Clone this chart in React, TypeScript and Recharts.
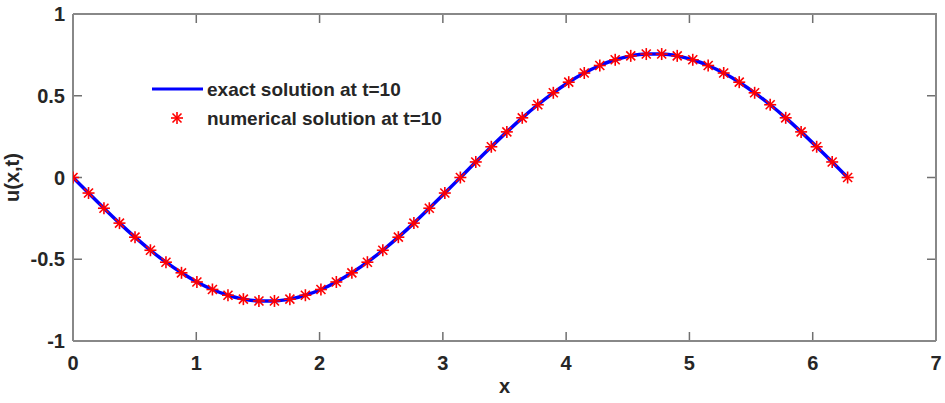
import React from 'react';
import { ComposedChart, Line, Scatter, XAxis, YAxis, CartesianGrid } from 'recharts';

// x positions of the computed nodes (0 .. 2π)
const xValues = [
  0, 0.126, 0.251, 0.377, 0.503, 0.628, 0.754, 0.88, 1.005, 1.131, 1.257, 1.382, 1.508,
  1.634, 1.759, 1.885, 2.011, 2.136, 2.262, 2.388, 2.513, 2.639, 2.765, 2.89, 3.016, 3.142,
  3.267, 3.393, 3.519, 3.644, 3.77, 3.896, 4.021, 4.147, 4.273, 4.398, 4.524, 4.65, 4.775,
  4.901, 5.027, 5.152, 5.278, 5.404, 5.529, 5.655, 5.781, 5.906, 6.032, 6.158, 6.283,
];

// exact solution u(x, t=10)
const exactValues = [
  0, -0.095, -0.188, -0.279, -0.365, -0.445, -0.518, -0.583, -0.639, -0.685, -0.72, -0.744, -0.755,
  -0.755, -0.744, -0.72, -0.685, -0.639, -0.583, -0.518, -0.445, -0.365, -0.279, -0.188, -0.095, 0,
  0.095, 0.188, 0.279, 0.365, 0.445, 0.518, 0.583, 0.639, 0.685, 0.72, 0.744, 0.755,
  0.755, 0.744, 0.72, 0.685, 0.639, 0.583, 0.518, 0.445, 0.365, 0.279, 0.188, 0.095, 0,
];

// numerical solution u(x, t=10)
const numericalValues = [
  0, -0.095, -0.188, -0.279, -0.365, -0.445, -0.518, -0.583, -0.639, -0.685, -0.72, -0.744, -0.755,
  -0.755, -0.744, -0.72, -0.685, -0.639, -0.583, -0.518, -0.445, -0.365, -0.279, -0.188, -0.095, 0,
  0.095, 0.188, 0.279, 0.365, 0.445, 0.518, 0.583, 0.639, 0.685, 0.72, 0.744, 0.755,
  0.755, 0.744, 0.72, 0.685, 0.639, 0.583, 0.518, 0.445, 0.365, 0.279, 0.188, 0.095, 0,
];

const xTicks = [0, 1, 2, 3, 4, 5, 6, 7];
const yTicks = [-1, -0.5, 0, 0.5, 1];

const exactData = xValues.map((x, i) => ({ x, u: exactValues[i] }));
const numericalData = xValues.map((x, i) => ({ x, u: numericalValues[i] }));

const CHART_W = 945;
const CHART_H = 403;
const MARGIN = { top: 14, right: 9, bottom: 0, left: 0 };
const Y_AXIS_W = 73;
const X_AXIS_H = 62;
const PLOT_W = CHART_W - MARGIN.left - MARGIN.right - Y_AXIS_W;
const PLOT_H = CHART_H - MARGIN.top - MARGIN.bottom - X_AXIS_H;

const FONT = '"Liberation Sans", Arial, sans-serif';
const AXIS_COLOR = '#888888';
const TICK_COLOR = '#707070';
const TEXT_COLOR = '#262626';
const TICK_LEN = 9;

const BottomTick = (props: any) => {
  const { x, y, payload } = props;
  return (
    <text x={x} y={y + 29} textAnchor="middle" fontFamily={FONT} fontWeight="bold" fontSize={20} fill={TEXT_COLOR}>
      {payload.value}
    </text>
  );
};

const LeftTick = (props: any) => {
  const { x, y, payload } = props;
  return (
    <text x={x - 8} y={y + 7} textAnchor="end" fontFamily={FONT} fontWeight="bold" fontSize={20} fill={TEXT_COLOR}>
      {String(payload.value)}
    </text>
  );
};

const Star = (props: any) => {
  const { cx, cy } = props;
  const r = 6;
  const d = 4.5;
  return (
    <g stroke="#ff0000" strokeWidth={1.6}>
      <line x1={cx - r} y1={cy} x2={cx + r} y2={cy} />
      <line x1={cx} y1={cy - r} x2={cx} y2={cy + r} />
      <line x1={cx - d} y1={cy - d} x2={cx + d} y2={cy + d} />
      <line x1={cx - d} y1={cy + d} x2={cx + d} y2={cy - d} />
    </g>
  );
};

const LegendBox = () => (
  <svg width={340} height={60} style={{ display: 'block' }}>
    <line x1={0} y1={14} x2={51} y2={14} stroke="#0000ff" strokeWidth={3} />
    <text x={55} y={21} fontFamily={FONT} fontWeight="bold" fontSize={19} fill={TEXT_COLOR}>
      exact solution at t=10
    </text>
    <Star cx={25} cy={43} />
    <text x={55} y={50} fontFamily={FONT} fontWeight="bold" fontSize={19} fill={TEXT_COLOR}>
      numerical solution at t=10
    </text>
  </svg>
);

// dash patterns that leave only short inward ticks at both ends of each grid line
const vDash = `${TICK_LEN} ${PLOT_H - 2 * TICK_LEN} ${TICK_LEN} 2000`;
const hDash = `${TICK_LEN} ${PLOT_W - 2 * TICK_LEN} ${TICK_LEN} 2000`;

export default function App() {
  return (
    <div style={{ position: 'absolute', left: 0, top: 0, width: CHART_W, height: CHART_H, background: '#fff' }}>
      <ComposedChart width={CHART_W} height={CHART_H} margin={MARGIN}>
        <CartesianGrid vertical={true} horizontal={false} stroke={TICK_COLOR} strokeWidth={1.5} strokeDasharray={vDash} />
        <CartesianGrid vertical={false} horizontal={true} stroke={TICK_COLOR} strokeWidth={1.5} strokeDasharray={hDash} />
        <XAxis
          dataKey="x"
          type="number"
          domain={[0, 7]}
          ticks={xTicks}
          allowDataOverflow
          height={X_AXIS_H}
          axisLine={{ stroke: AXIS_COLOR, strokeWidth: 2 }}
          tickLine={false}
          tickSize={0}
          tickMargin={0}
          tick={<BottomTick />}
          label={{ value: 'x', position: 'insideBottom', offset: 10, fontFamily: FONT, fontWeight: 'bold', fontSize: 20, fill: TEXT_COLOR }}
        />
        <YAxis
          type="number"
          domain={[-1, 1]}
          ticks={yTicks}
          allowDataOverflow
          width={Y_AXIS_W}
          axisLine={{ stroke: AXIS_COLOR, strokeWidth: 2 }}
          tickLine={false}
          tickSize={0}
          tickMargin={0}
          tick={<LeftTick />}
          label={{
            content: (p: any) => {
              const vb = p.viewBox || { x: 0, y: MARGIN.top, width: Y_AXIS_W, height: PLOT_H };
              const cx = 19;
              const cy = vb.y + vb.height / 2;
              return (
                <text x={cx} y={cy} transform={`rotate(-90 ${cx} ${cy})`} textAnchor="middle" fontFamily={FONT} fontWeight="bold" fontSize={20} fill={TEXT_COLOR}>
                  u(x,t)
                </text>
              );
            },
          }}
        />
        <Line
          data={exactData}
          dataKey="u"
          type="monotone"
          stroke="#0000ff"
          strokeWidth={3.5}
          dot={false}
          isAnimationActive={false}
          name="exact solution at t=10"
        />
        <Scatter
          data={numericalData}
          dataKey="u"
          shape={<Star />}
          isAnimationActive={false}
          name="numerical solution at t=10"
        />
      </ComposedChart>
      {/* top and right sides of the axes box */}
      <div
        style={{
          position: 'absolute',
          left: MARGIN.left + Y_AXIS_W,
          top: MARGIN.top - 1,
          width: PLOT_W + 1,
          height: PLOT_H + 1,
          boxSizing: 'border-box',
          borderTop: `2px solid ${AXIS_COLOR}`,
          borderRight: `2px solid ${AXIS_COLOR}`,
          pointerEvents: 'none',
          zIndex: 5,
        }}
      />
      <div style={{ position: 'absolute', left: 152, top: 75, zIndex: 6 }}>
        <LegendBox />
      </div>
    </div>
  );
}
